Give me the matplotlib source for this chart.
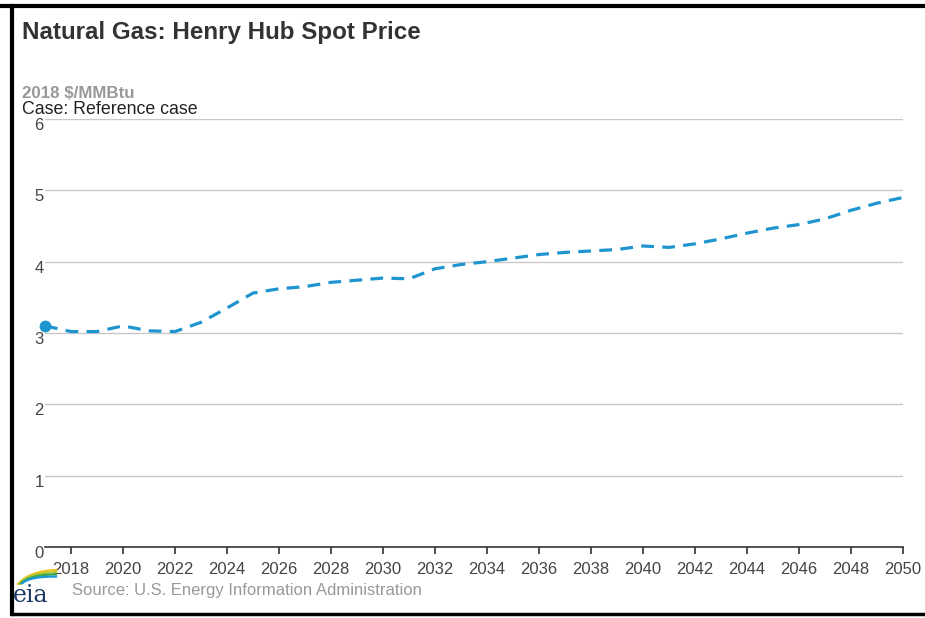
import matplotlib
matplotlib.use("Agg")
import matplotlib.pyplot as plt
from matplotlib.lines import Line2D
import matplotlib.transforms as mtransforms
import numpy as np

years = list(range(2017, 2051))
price = [3.10, 3.02, 3.02, 3.10, 3.03, 3.02, 3.15, 3.35, 3.56, 3.62, 3.65, 3.71,
         3.74, 3.77, 3.76, 3.90, 3.96, 4.00, 4.05, 4.10, 4.13, 4.15, 4.17, 4.22,
         4.20, 4.25, 4.32, 4.40, 4.47, 4.52, 4.60, 4.72, 4.82, 4.90]
xticks = list(range(2018, 2051, 2))
yticks = [0, 1, 2, 3, 4, 5, 6]

title = "Natural Gas: Henry Hub Spot Price"
units = "2018 $/MMBtu"
case = "Case: Reference case"
source = "Source: U.S. Energy Information Administration"

plt.rcParams['font.family'] = ['Liberation Sans', 'DejaVu Sans']

W, H = 925, 618
fig = plt.figure(figsize=(9.25, 6.18), dpi=100)
ax = fig.add_axes([45/W, 1-547/H, (903-45)/W, (547-119)/H])

ax.plot(years, price, color='#1f95d0', lw=2.3, dashes=(4, 2.6), solid_capstyle='butt')
ax.plot([years[0]], [price[0]], 'o', color='#1f95d0', ms=7.5, clip_on=False, zorder=5)

ax.set_xlim(2017, 2050)
ax.set_ylim(0, 6)
ax.set_yticks(yticks)
ax.set_xticks(xticks)
for y in yticks[1:]:
    ax.axhline(y, color='#c8c8c8', lw=1.0, zorder=0)

for s in ['top', 'right', 'left']:
    ax.spines[s].set_visible(False)
ax.spines['bottom'].set_color('#333333')
ax.spines['bottom'].set_linewidth(1.2)
ax.tick_params(axis='x', direction='out', length=5, width=1.2, color='#333333',
               labelsize=12, labelcolor='#444444', pad=6)
ax.tick_params(axis='y', length=0, labelsize=12, labelcolor='#444444', pad=1)
ax.set_yticklabels([str(v) for v in yticks])
off = mtransforms.ScaledTranslation(0, -5/100, fig.dpi_scale_trans)
for lab in ax.get_yticklabels():
    lab.set_transform(lab.get_transform() + off)

fig.text(22/W, 1-33/H, title, fontsize=17.4, fontweight='bold', color='#333333',
         va='center', ha='left')
fig.text(22/W, 1-94/H, units, fontsize=12.2, fontweight='bold', color='#999999',
         va='center', ha='left')
fig.text(22/W, 1-109/H, case, fontsize=12.8, color='#222222',
         va='center', ha='left')
fig.text(72/W, 1-591/H, source, fontsize=12, color='#999999',
         va='center', ha='left')

# eia logo
fig.text(13/W, 1-596/H, "eia", family='DejaVu Serif', fontsize=17,
         color='#1f3a66', va='center', ha='left')
t = np.linspace(0, 1, 30)
for i, c in enumerate(['#f2c21b', '#a8c83a', '#3aa64a', '#1a9ad6']):
    p0 = np.array([18 + i*1.5, 584 - i*0.3])
    p1 = np.array([30, 571 + i*1.8])
    p2 = np.array([56, 570 + i*2.2])
    pts = ((1-t)**2)[:, None]*p0 + (2*(1-t)*t)[:, None]*p1 + (t**2)[:, None]*p2
    fig.add_artist(Line2D(pts[:, 0]/W, 1-pts[:, 1]/H, color=c, lw=1.6,
                          transform=fig.transFigure))

# frame border
fig.add_artist(Line2D([0, 1], [1-6/H, 1-6/H], color='black', lw=3, transform=fig.transFigure))
fig.add_artist(Line2D([12/W, 12/W], [1-6/H, 1-614/H], color='black', lw=3, transform=fig.transFigure))
fig.add_artist(Line2D([12/W, 1], [1-614/H, 1-614/H], color='black', lw=2.5, transform=fig.transFigure))

fig.savefig("out.png", dpi=100)
